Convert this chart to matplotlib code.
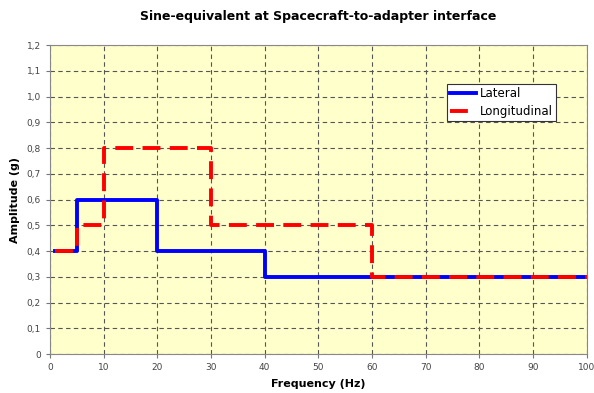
import matplotlib.pyplot as plt
from matplotlib.ticker import FuncFormatter

lat_freq = [1, 5, 5, 20, 20, 40, 40, 100]
lat_amp = [0.4, 0.4, 0.6, 0.6, 0.4, 0.4, 0.3, 0.3]

lon_freq = [1, 5, 5, 10, 10, 30, 30, 60, 60, 100]
lon_amp = [0.4, 0.4, 0.5, 0.5, 0.8, 0.8, 0.5, 0.5, 0.3, 0.3]

fig = plt.figure(figsize=(5.94, 3.93), dpi=100)
ax = fig.add_axes([0.084, 0.099, 0.904, 0.786])
ax.set_facecolor('#FFFFCC')

ax.plot(lat_freq, lat_amp, color='#0000FF', lw=2.8, label='Lateral', zorder=3)
ax.plot(lon_freq, lon_amp, color='#FF0000', lw=2.8, dashes=(4.6, 2.4), label='Longitudinal', zorder=4)

ax.set_xlim(0, 100)
ax.set_ylim(0, 1.2)
ax.set_xticks(range(0, 101, 10))
ax.set_yticks([i / 10 for i in range(13)])
ax.yaxis.set_major_formatter(FuncFormatter(lambda v, p: ('%.1f' % v).replace('.', ',') if v > 0 else '0'))
ax.grid(True, color='#555555', ls=(0, (4, 3)), lw=0.8)
ax.tick_params(labelsize=6.5, labelcolor='#444444', color='#777777', length=3)
for s in ax.spines.values():
    s.set_color('#888888')

ax.set_title('Sine-equivalent at Spacecraft-to-adapter interface', fontsize=9, fontweight='bold', pad=18)
ax.set_xlabel('Frequency (Hz)', fontsize=8, fontweight='bold', labelpad=5)
ax.set_ylabel('Amplitude (g)', fontsize=8, fontweight='bold', labelpad=5)

leg = ax.legend(loc='upper left', bbox_to_anchor=(0.728, 0.895), fontsize=8.5, fancybox=False,
                framealpha=1, edgecolor='#333333', handlelength=2.2, handletextpad=0.3,
                borderpad=0.3, labelspacing=0.4)
leg.get_frame().set_linewidth(0.8)

fig.savefig('out.png', dpi=100)
